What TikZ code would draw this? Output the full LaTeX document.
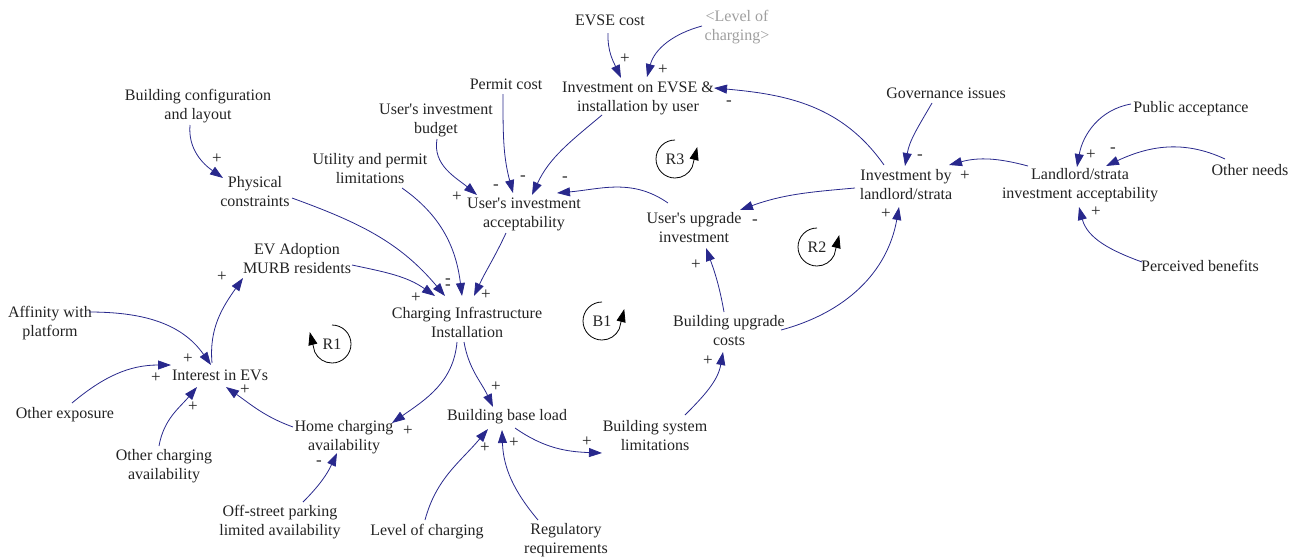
\documentclass[tikz,border=0pt]{standalone}
\usepackage{fontspec}
\setmainfont{Liberation Serif}
\usetikzlibrary{arrows.meta}
\definecolor{arrowblue}{RGB}{40,40,140}
\definecolor{txt}{RGB}{35,35,35}
\newcommand{\ap}{\textquotesingle}
\begin{document}
\begin{tikzpicture}[x=1pt,y=1pt,
  lbl/.style={font=\fontsize{16}{19}\selectfont, text=txt, align=center, inner sep=0pt},
  sgn/.style={font=\fontsize{17}{17}\selectfont, text=txt, inner sep=0pt},
  lnk/.style={draw=arrowblue, line width=0.8pt, -{Triangle[length=13pt,width=9pt]}},
  loopc/.style={draw=black, line width=0.8pt, -{Triangle[length=13pt,width=9pt]}}]
\useasboundingbox (0,0) rectangle (1300,-558);
% nodes
\node[lbl] (evse) at (610,-20) {EVSE cost};
\node[lbl,text=gray!75] (lvl) at (737,-27) {<Level of\\charging>};
\node[lbl] (permit) at (506,-84) {Permit cost};
\node[lbl] (inv) at (638,-98) {Investment on EVSE \&\\installation by user};
\node[lbl] (budget) at (436,-120) {User\ap s investment\\budget};
\node[lbl] (utility) at (370,-169) {Utility and permit\\limitations};
\node[lbl] (config) at (198,-106) {Building configuration\\and layout};
\node[lbl] (phys) at (255,-192) {Physical\\constraints};
\node[lbl] (evad) at (297,-259) {EV Adoption\\MURB residents};
\node[lbl] (uacc) at (524,-214) {User\ap s investment\\acceptability};
\node[lbl] (uup) at (694,-228) {User\ap s upgrade\\investment};
\node[lbl] (ibl) at (906,-185) {Investment by\\landlord/strata};
\node[lbl] (lacc) at (1080,-185) {Landlord/strata\\investment acceptability};
\node[lbl] (gov) at (946,-93) {Governance issues};
\node[lbl] (pub) at (1191,-109) {Public acceptance};
\node[lbl] (other) at (1250,-170) {Other needs};
\node[lbl] (perc) at (1200,-266) {Perceived benefits};
\node[lbl] (buc) at (729,-331) {Building upgrade\\costs};
\node[lbl] (cii) at (467,-322) {Charging Infrastructure\\Installation};
\node[lbl] (bbl) at (507,-417) {Building base load};
\node[lbl] (bsl) at (655,-436) {Building system\\limitations};
\node[lbl] (loc) at (427,-532) {Level of charging};
\node[lbl] (reg) at (566,-540) {Regulatory\\requirements};
\node[lbl] (hca) at (344,-437) {Home charging\\availability};
\node[lbl] (iev) at (220,-375) {Interest in EVs};
\node[lbl] (aff) at (50,-323) {Affinity with\\platform};
\node[lbl] (oexp) at (65,-415) {Other exposure};
\node[lbl] (ocha) at (164,-466) {Other charging\\availability};
\node[lbl] (off) at (280,-522) {Off-street parking\\limited availability};
% links
\draw[lnk] ([shift={(-2,-13)}]evse.center) to[out=-92,in=115] ([shift={(-17,20)}]inv.center);
\draw[lnk] ([shift={(-35,1)}]lvl.center) to[out=195,in=75] ([shift={(9,21)}]inv.center);
\draw[lnk] ([shift={(-3,-10)}]permit.center) to[out=-90,in=105] ([shift={(-11,21)}]uacc.center);
\draw[lnk] ([shift={(1,-19)}]budget.center) to[out=-100,in=140] ([shift={(-47,19)}]uacc.center);
\draw[lnk] ([shift={(-36,-17)}]inv.center) to[out=-140,in=65] ([shift={(8,19)}]uacc.center);
\draw[lnk] ([shift={(-26,25)}]uup.center) to[out=145,in=5] ([shift={(33,21)}]uacc.center);
\draw[lnk] ([shift={(-22,20)}]ibl.center) to[out=125,in=-5] ([shift={(76,10)}]inv.center);
\draw[lnk] ([shift={(-51,-3)}]ibl.center) to[out=185,in=20] ([shift={(46,18)}]uup.center);
\draw[lnk] ([shift={(-14,-10)}]gov.center) to[out=-120,in=80] ([shift={(-1,19)}]ibl.center);
\draw[lnk] ([shift={(-52,19)}]lacc.center) to[out=165,in=15] ([shift={(43,20)}]ibl.center);
\draw[lnk] ([shift={(-60,5)}]pub.center) to[out=190,in=80] ([shift={(-3,18)}]lacc.center);
\draw[lnk] ([shift={(-25,11)}]other.center) to[out=155,in=25] ([shift={(26,19)}]lacc.center);
\draw[lnk] ([shift={(-58,4)}]perc.center) to[out=160,in=-75] ([shift={(-1,-22)}]lacc.center);
\draw[lnk] ([shift={(-5,19)}]buc.center) to[out=100,in=-70] ([shift={(12,-20)}]uup.center);
\draw[lnk] ([shift={(52,1)}]buc.center) to[out=15,in=-100] ([shift={(-7,-22)}]ibl.center);
\draw[lnk] ([shift={(30,21)}]bsl.center) to[out=45,in=-100] ([shift={(-6,-21)}]buc.center);
\draw[lnk] ([shift={(8,-11)}]bbl.center) to[out=-35,in=178] ([shift={(-53,-17)}]bsl.center);
\draw[lnk] ([shift={(-2,12)}]loc.center) to[out=75,in=-130] ([shift={(-19,-12)}]bbl.center);
\draw[lnk] ([shift={(-28,20)}]reg.center) to[out=130,in=-88] ([shift={(-5,-13)}]bbl.center);
\draw[lnk] ([shift={(-3,-20)}]cii.center) to[out=-80,in=115] ([shift={(-14,10)}]bbl.center);
\draw[lnk] ([shift={(-10,-20)}]cii.center) to[out=-95,in=35] ([shift={(48,14)}]hca.center);
\draw[lnk] ([shift={(-51,10)}]hca.center) to[out=160,in=-35] ([shift={(6,-12)}]iev.center);
\draw[lnk] ([shift={(23,20)}]off.center) to[out=45,in=-115] ([shift={(-7,-16)}]hca.center);
\draw[lnk] ([shift={(-5,20)}]ocha.center) to[out=80,in=-130] ([shift={(-23,-12)}]iev.center);
\draw[lnk] ([shift={(7,12)}]oexp.center) to[out=40,in=180] ([shift={(-49,10)}]iev.center);
\draw[lnk] ([shift={(39,11)}]aff.center) to[out=0,in=125] ([shift={(-9,10)}]iev.center);
\draw[lnk] ([shift={(-8,12)}]iev.center) to[out=95,in=-125] ([shift={(-54,-19)}]evad.center);
\draw[lnk] ([shift={(55,-6)}]evad.center) to[out=-12,in=145] ([shift={(-32,26)}]cii.center);
\draw[lnk] ([shift={(37,-6)}]phys.center) to[out=-20,in=130] ([shift={(-22,26)}]cii.center);
\draw[lnk] ([shift={(32,-19)}]utility.center) to[out=-35,in=97] ([shift={(-5,26)}]cii.center);
\draw[lnk] ([shift={(-18,-19)}]uacc.center) to[out=-115,in=65] ([shift={(7,26)}]cii.center);
\draw[lnk] ([shift={(-8,-19)}]config.center) to[out=-95,in=145] ([shift={(-32,14)}]phys.center);
% signs
\node[sgn] (s1) at (625,-59) {+};
\node[sgn] (s2) at (663,-70) {+};
\node[sgn] (s3) at (496,-187) {-};
\node[sgn] (s4) at (523,-178) {-};
\node[sgn] (s5) at (565,-179) {-};
\node[sgn] (s6) at (457,-197) {+};
\node[sgn] (s7) at (729,-103) {-};
\node[sgn] (s8) at (755,-222) {-};
\node[sgn] (s9) at (920,-157) {-};
\node[sgn] (s10) at (965,-176) {+};
\node[sgn] (s11) at (1091,-155) {+};
\node[sgn] (s12) at (1113,-150) {-};
\node[sgn] (s13) at (1096,-212) {+};
\node[sgn] (s14) at (696,-265) {+};
\node[sgn] (s15) at (886,-214) {+};
\node[sgn] (s16) at (708,-361) {+};
\node[sgn] (s17) at (587,-442) {+};
\node[sgn] (s18) at (485,-448) {+};
\node[sgn] (s19) at (514,-443) {+};
\node[sgn] (s20) at (496,-387) {+};
\node[sgn] (s21) at (408,-431) {+};
\node[sgn] (s22) at (245,-390) {+};
\node[sgn] (s23) at (319,-463) {-};
\node[sgn] (s24) at (193,-407) {+};
\node[sgn] (s25) at (156,-378) {+};
\node[sgn] (s26) at (188,-359) {+};
\node[sgn] (s27) at (222,-277) {+};
\node[sgn] (s28) at (416,-298) {+};
\node[sgn,align=center,font=\fontsize{17}{6}\selectfont] (s29) at (448,-284) {-\\-};
\node[sgn] (s31) at (486,-295) {+};
\node[sgn] (s32) at (217,-159) {+};
% loop markers
\node[lbl] (r3) at (675,-159) {R3};
\node[lbl] (r2) at (817,-247) {R2};
\node[lbl] (b1) at (602,-321) {B1};
\node[lbl] (r1) at (332,-344) {R1};
\draw[loopc] ([shift={(90:19)}]r3.center) arc[start angle=90,end angle=335,radius=19] -- ++(5,20);
\draw[loopc] ([shift={(90:19)}]r2.center) arc[start angle=90,end angle=335,radius=19] -- ++(5,20);
\draw[loopc] ([shift={(90:19)}]b1.center) arc[start angle=90,end angle=335,radius=19] -- ++(5,20);
\draw[loopc] ([shift={(90:19)}]r1.center) arc[start angle=90,end angle=-155,radius=19] -- ++(-5,20);
\end{tikzpicture}
\end{document}
